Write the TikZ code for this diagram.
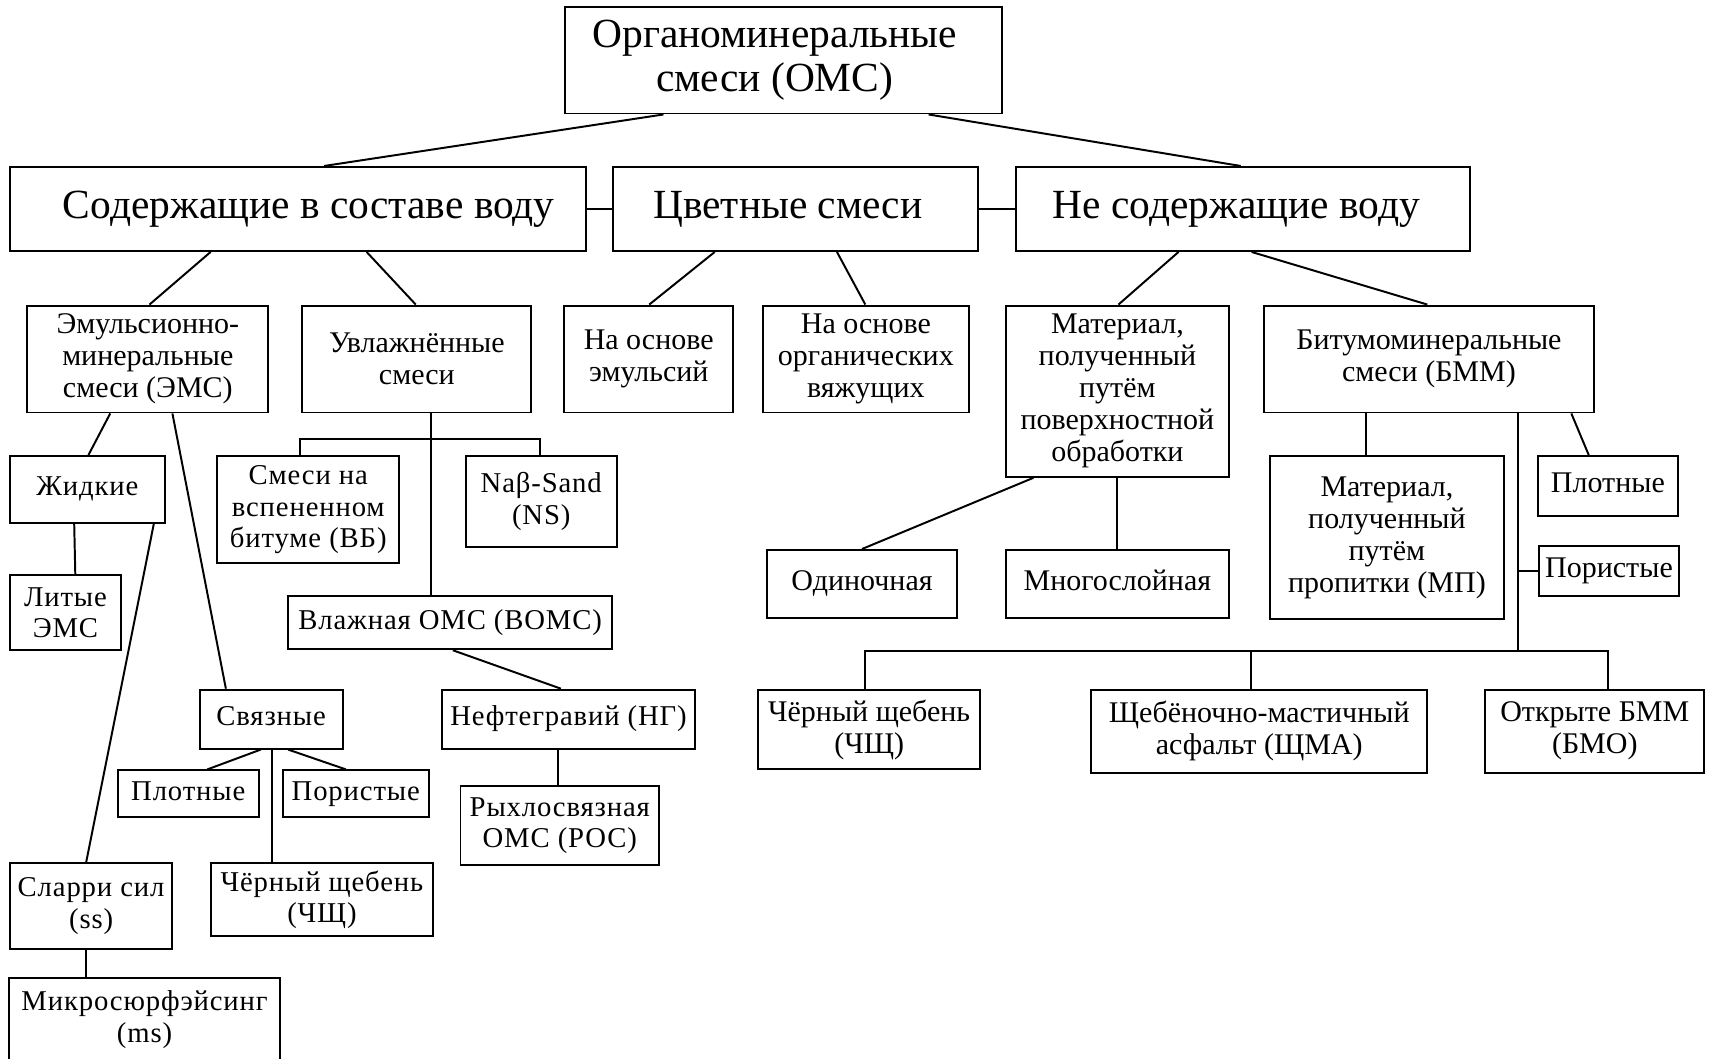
\documentclass[tikz,border=0pt]{standalone}
\usepackage{fontspec}
\setmainfont{Liberation Serif}
\newfontfamily\widefont[LetterSpace=3]{Liberation Serif}
\begin{document}
\begin{tikzpicture}[x=1pt,y=-1pt,
  box/.style={draw,line width=1.8pt,inner sep=0pt,align=center,font=\fontsize{27.5}{29.3}\selectfont},
  bigbox/.style={box,font=\fontsize{38}{40}\selectfont},
  wbox/.style={box,font=\widefont\fontsize{26.3}{29}\selectfont},
  one/.style={text height=18pt,text depth=6pt},
  bone/.style={text height=26pt,text depth=8pt},
  ln/.style={line width=1.8pt}]
\useasboundingbox (0,0) rectangle (1568,970);
\clip (0,0) rectangle (1568,970);
% level 0 and 1
\node[bigbox,minimum width=400,minimum height=98] (root) at (718,55) {Органоминеральные\hspace*{16pt}\\смеси (ОМС)\hspace*{16pt}};
\node[bigbox,bone,minimum width=528,minimum height=77] (water) at (273,191.5) {\hspace*{20pt}Содержащие в составе воду};
\node[bigbox,bone,minimum width=334,minimum height=77] (color) at (729,191.5) {Цветные смеси\hspace*{14pt}};
\node[bigbox,bone,minimum width=416,minimum height=77] (nowater) at (1139,191.5) {Не содержащие воду\hspace*{12pt}};
% level 2
\node[box,minimum width=221,minimum height=98] (ems) at (135.5,329) {Эмульсионно-\\минеральные\\смеси (ЭМС)};
\node[box,minimum width=210,minimum height=98] (wet) at (382,329) {Увлажнённые\\смеси};
\node[box,minimum width=155,minimum height=98] (naemul) at (594.5,329) {На основе\\эмульсий};
\node[box,minimum width=189,minimum height=98] (naorg) at (793.5,329) {На основе\\органических\\вяжущих};
\node[box,minimum width=204,minimum height=157] (matsurf) at (1024,358.5) {Материал,\\полученный\\путём\\поверхностной\\обработки};
\node[box,minimum width=303,minimum height=98] (bmm) at (1309.5,329) {Битумоминеральные\\смеси (БММ)};
% left branch
\node[wbox,one,minimum width=142,minimum height=61] (zhid) at (80,448.5) {Жидкие};
\node[wbox,minimum width=102,minimum height=69] (lit) at (60,561.5) {Литые\\ЭМС};
\node[wbox,minimum width=149,minimum height=79] (slurry) at (83.5,830.5) {Сларри сил\\(ss)};
\node[wbox,draw=none,minimum width=247,minimum height=75] (micro) at (132.5,934.5) {Микросюрфэйсинг\\(ms)};
\draw[ln] ([yshift=-30pt]micro.south west) -- (micro.north west) -- (micro.north east) -- ([yshift=-30pt]micro.south east);
\node[wbox,one,minimum width=131,minimum height=54] (svyaz) at (248.5,659) {Связные};
\node[wbox,one,minimum width=129,minimum height=43] (plot1) at (172.5,727.5) {Плотные};
\node[wbox,one,minimum width=134,minimum height=43] (por1) at (326,727.5) {Пористые};
\node[wbox,minimum width=204,minimum height=67] (chsh1) at (295,824.5) {Чёрный щебень\\(ЧЩ)};
% wet branch
\node[wbox,minimum width=167,minimum height=98] (smesi) at (282.5,467) {Смеси на\\вспененном\\битуме (ВБ)};
\node[wbox,minimum width=138,minimum height=83] (nab) at (496,459.5) {Naβ-Sand\\(NS)};
\node[wbox,one,minimum width=297,minimum height=49] (vomc) at (412.5,570.5) {Влажная ОМС (ВОМС)};
\node[wbox,one,minimum width=232,minimum height=54] (neft) at (521,659) {Нефтегравий (НГ)};
\node[wbox,minimum width=182,minimum height=73] (ryhl) at (513,756.5) {Рыхлосвязная\\ОМС (РОС)};
% right branch
\node[box,one,minimum width=174,minimum height=62] (odin) at (790,535) {Одиночная};
\node[box,one,minimum width=204,minimum height=62] (mnogo) at (1024,535) {Многослойная};
\node[box,minimum width=214,minimum height=149] (mp) at (1271,492.5) {Материал,\\полученный\\путём\\пропитки (МП)};
\node[box,one,minimum width=129,minimum height=55] (plot2) at (1473.5,445.5) {Плотные};
\node[box,one,minimum width=129,minimum height=46] (por2) at (1474.5,523) {Пористые};
\node[box,minimum width=203,minimum height=73] (chsh2) at (796.5,668.5) {Чёрный щебень\\(ЧЩ)};
\node[box,minimum width=308,minimum height=76] (shma) at (1154,670) {Щебёночно-мастичный\\асфальт (ЩМА)};
\node[box,minimum width=201,minimum height=76] (bmo) at (1461.5,670) {Открыте БММ\\(БМО)};
% connectors level 0-1
\draw[ln] (root.south -| 608,0) -- (water.north -| 297,0);
\draw[ln] (root.south -| 851,0) -- (nowater.north -| 1137,0);
\draw[ln] (water.east) -- (color.west);
\draw[ln] (color.east) -- (nowater.west);
% level 1-2
\draw[ln] (water.south -| 193,0) -- (ems.north -| 137,0);
\draw[ln] (water.south -| 336,0) -- (wet.north -| 381,0);
\draw[ln] (color.south -| 655,0) -- (naemul.north -| 595,0);
\draw[ln] (color.south -| 767,0) -- (naorg.north -| 793,0);
\draw[ln] (nowater.south -| 1080,0) -- (matsurf.north -| 1025,0);
\draw[ln] (nowater.south -| 1147,0) -- (bmm.north -| 1308,0);
% EMS branch
\draw[ln] (ems.south -| 101,0) -- (zhid.north -| 81,0);
\draw[ln] (zhid.south -| 68,0) -- (lit.north -| 69,0);
\draw[ln] (zhid.south -| 141,0) -- (slurry.north -| 79,0);
\draw[ln] (slurry.south -| 79,0) -- (micro.north -| 79,0);
\draw[ln] (ems.south -| 158,0) -- (svyaz.north -| 207,0);
\draw[ln] (svyaz.south -| 239,0) -- (plot1.north -| 190,0);
\draw[ln] (svyaz.south -| 264,0) -- (por1.north -| 317,0);
\draw[ln] (svyaz.south -| 249,0) -- (chsh1.north -| 249,0);
% wet branch
\coordinate (wj) at (395,402);
\draw[ln] (wet.south -| wj) -- (vomc.north -| wj);
\draw[ln] (smesi.north -| 275,0) -- (275,402) -- (495,402) -- (nab.north -| 495,0);
\draw[ln] (vomc.south -| 415,0) -- (neft.north -| 514,0);
\draw[ln] (neft.south -| 511,0) -- (ryhl.north -| 511,0);
% surface treatment
\draw[ln] (matsurf.south -| 947,0) -- (odin.north -| 790,0);
\draw[ln] (matsurf.south -| 1024,0) -- (mnogo.north -| 1024,0);
% BMM
\coordinate (bus) at (1391,597);
\draw[ln] (bmm.south -| 1252,0) -- (mp.north -| 1252,0);
\draw[ln] (bmm.south -| 1440,0) -- (plot2.north -| 1456,0);
\draw[ln] (bmm.south -| bus) -- (bus);
\draw[ln] (bus |- por2.west) -- (por2.west);
\draw[ln] (chsh2.north -| 793,0) -- (793,597) -- (1474,597) -- (bmo.north -| 1474,0);
\draw[ln] (1146,597) -- (shma.north -| 1146,0);
\end{tikzpicture}
\end{document}
